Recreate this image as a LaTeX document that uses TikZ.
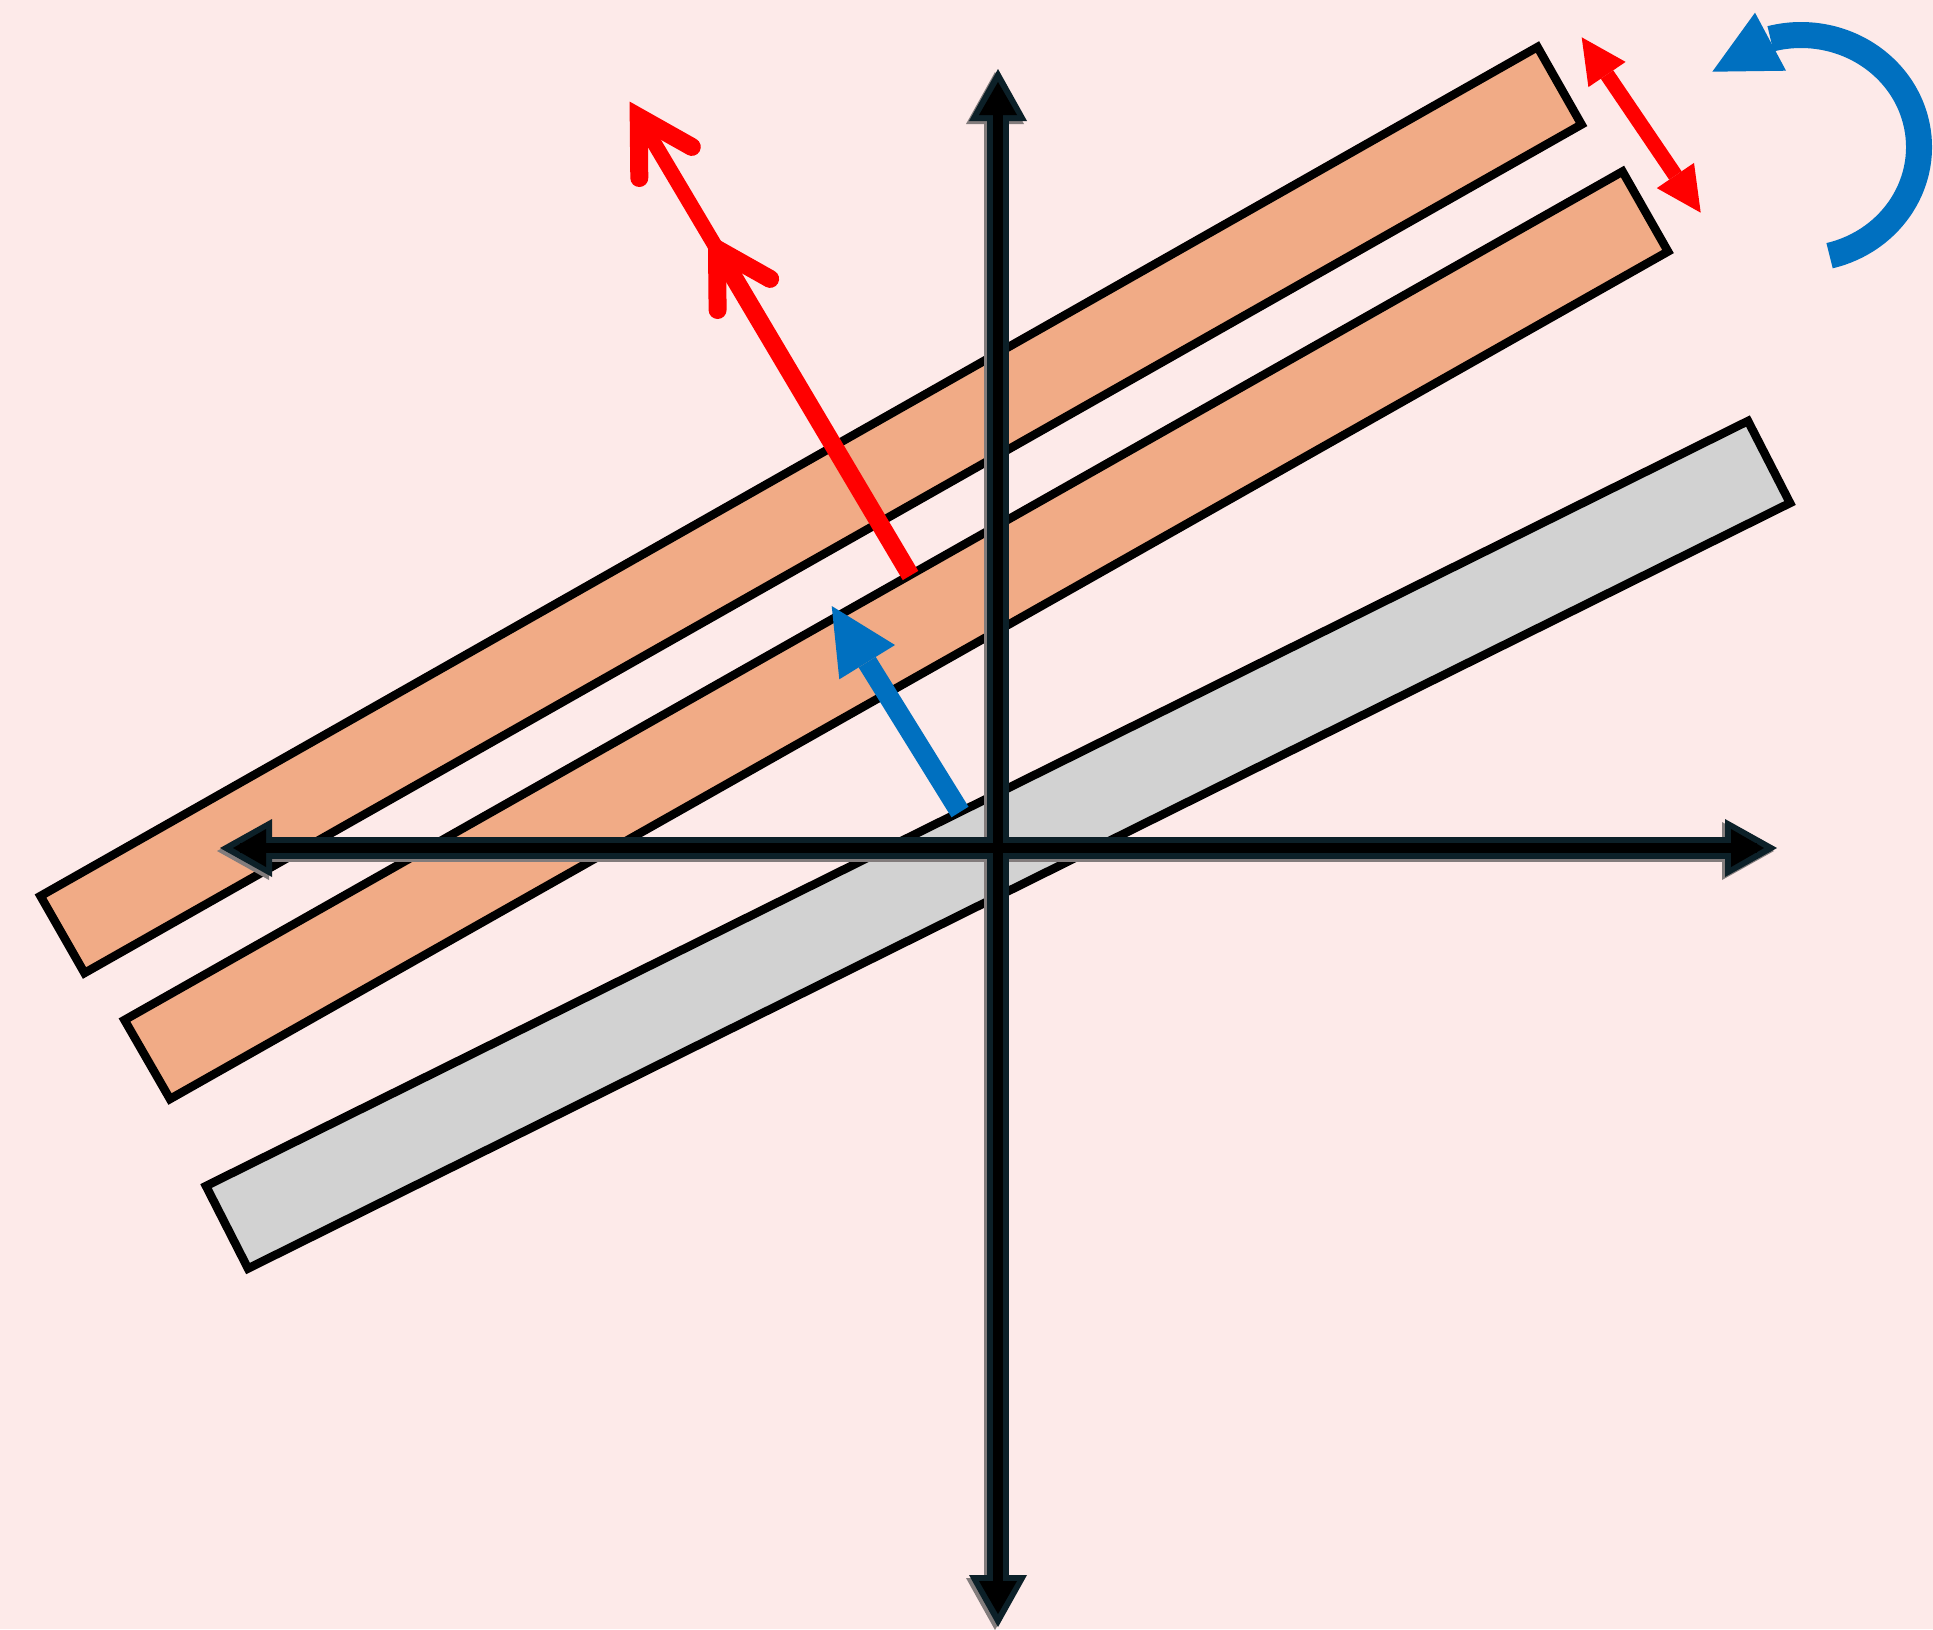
\documentclass[tikz,border=0pt]{standalone}
\usetikzlibrary{calc}
\definecolor{bg}{RGB}{253,234,233}
\definecolor{orangefill}{RGB}{241,171,134}
\definecolor{grayfill}{RGB}{210,210,210}
\definecolor{axisedge}{RGB}{12,32,40}
\definecolor{shadowgray}{RGB}{130,124,124}
\definecolor{myblue}{RGB}{0,112,192}
\definecolor{myred}{RGB}{255,0,0}
\begin{document}
\begin{tikzpicture}[x=0.5pt,y=-0.5pt,
  band/.style={draw=black,line width=4.25pt,line join=miter},
  axisouter/.style={draw=axisedge,line width=11pt},
  axisinner/.style={draw=black,line width=5pt},
  axisshadow/.style={draw=shadowgray,line width=11pt},
  redshaft/.style={draw=myred,line cap=butt},
  redbarb/.style={draw=myred,line width=9pt,line cap=round,line join=miter},
  blueline/.style={draw=myblue,line cap=butt}]
\fill[bg] (0,0) rectangle (1933,1629);
\useasboundingbox (0,0) rectangle (1933,1629);

% bands
\draw[band,fill=orangefill] (40.5,896) -- (84.5,973) -- (1581.5,124.5) -- (1537.5,47) -- cycle;
\draw[band,fill=orangefill] (124.5,1020) -- (170,1099) -- (1668,251.5) -- (1622.5,171.5) -- cycle;
\draw[band,fill=grayfill] (206,1186) -- (248,1268.5) -- (1790,503) -- (1748,421) -- cycle;

% axes shadow
\begin{scope}[shift={(-3,3)}]
  \draw[axisshadow] (998,115) -- (998,1582);
  \draw[axisshadow] (266,848) -- (1731,848);
  \fill[shadowgray] (998,69) -- (1027,121) -- (969,121) -- cycle;
  \fill[shadowgray] (998,1627) -- (1027,1575) -- (969,1575) -- cycle;
  \fill[shadowgray] (220,848) -- (272,819) -- (272,877) -- cycle;
  \fill[shadowgray] (1777,848) -- (1725,819) -- (1725,877) -- cycle;
\end{scope}

% axes
\coordinate (ytop) at (998,69);
\coordinate (ybot) at (998,1627);
\coordinate (xleft) at (220,848);
\coordinate (xright) at (1777,848);
\draw[axisouter] (998,115) -- (998,1582);
\draw[axisouter] (266,848) -- (1731,848);
\fill[axisedge] (ytop) -- (1027,121) -- (969,121) -- cycle;
\fill[axisedge] (ybot) -- (1027,1575) -- (969,1575) -- cycle;
\fill[axisedge] (xleft) -- (272,819) -- (272,877) -- cycle;
\fill[axisedge] (xright) -- (1725,819) -- (1725,877) -- cycle;
\draw[axisinner] (998,100) -- (998,1596);
\draw[axisinner] (240,848) -- (1757,848);
\fill[black] (998,82) -- (1017,115) -- (979,115) -- cycle;
\fill[black] (998,1614) -- (1017,1581) -- (979,1581) -- cycle;
\fill[black] (233,848) -- (266,829) -- (266,867) -- cycle;
\fill[black] (1764,848) -- (1731,829) -- (1731,867) -- cycle;

% red arrow with two open heads
\coordinate (S0) at (910.5,575.5);
\coordinate (V2) at (717,249);
\coordinate (V1) at (638.7,117);
\draw[redshaft,line width=9pt] (S0) -- (V2);
\draw[redshaft,line width=7.5pt] (V2) -- (V1);
\draw[redbarb] ($(V1)+(0.6,61)$) -- (V1) -- ($(V1)+(53.1,29.9)$);
\draw[redbarb] ($(V2)+(0.6,61)$) -- (V2) -- ($(V2)+(53.1,29.9)$);

% red double arrow (top right)
\coordinate (T1) at (1581.7,37.3);
\coordinate (T2) at (1700.7,212.7);
\coordinate (B1) at (1607,74.5);
\coordinate (B2) at (1675.4,175.5);
\draw[redshaft,line width=7.5pt] (B1) -- (B2);
\fill[myred] (T1) -- (1588.4,87.1) -- (1625.6,61.9) -- cycle;
\fill[myred] (T2) -- (1656.8,188.1) -- (1694,162.9) -- cycle;

% blue straight arrow
\coordinate (BT) at (831.7,606);
\coordinate (BB) at (867.2,662.2);
\coordinate (BE) at (960,812);
\draw[blueline,line width=10pt] (BE) -- (BB);
\fill[myblue] (BT) -- (839.3,679.3) -- (895,645) -- cycle;

% blue curved arrow
\coordinate (RC) at (1801,147);
\draw[blueline,line width=13pt] ($(RC)+(76:118 and 112)$) arc[start angle=76,end angle=-105,x radius=118,y radius=112];
\fill[myblue] (1755,12.7) -- (1786,70.7) -- (1712.3,71.7) -- cycle;
\end{tikzpicture}
\end{document}
